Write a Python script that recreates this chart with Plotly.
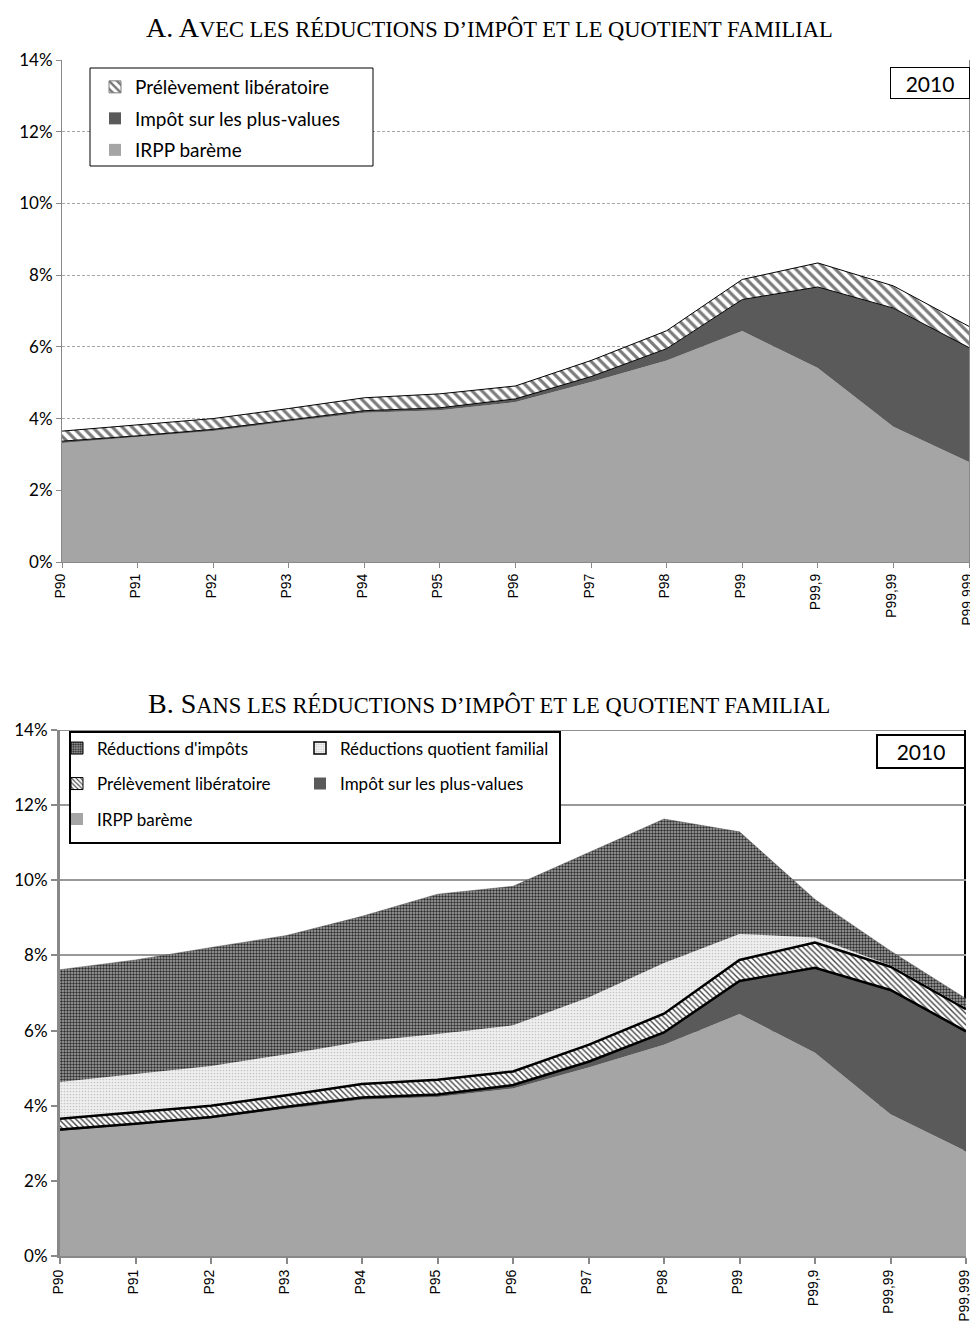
import plotly.graph_objects as go

# ---------------- data (percent of income) ----------------
categories = ["P90", "P91", "P92", "P93", "P94", "P95", "P96", "P97", "P98",
              "P99", "P99,9", "P99,99", "P99,999"]
irpp_bareme = [3.32, 3.48, 3.65, 3.92, 4.16, 4.23, 4.46, 5.02, 5.62, 6.44, 5.41, 3.77, 2.79]
impot_plus_values = [0.05, 0.04, 0.05, 0.05, 0.06, 0.07, 0.09, 0.15, 0.33, 0.88, 2.26, 3.31, 3.19]
prelevement_liberatoire = [0.28, 0.31, 0.30, 0.31, 0.36, 0.39, 0.36, 0.45, 0.50, 0.56, 0.67, 0.62, 0.59]
reductions_qf = [0.98, 1.01, 1.06, 1.09, 1.13, 1.22, 1.23, 1.26, 1.35, 0.69, 0.14, 0.04, 0.03]
reductions_impots = [2.99, 3.04, 3.15, 3.16, 3.33, 3.72, 3.70, 3.86, 3.83, 2.72, 1.01, 0.38, 0.25]
y_tick_values = [0, 2, 4, 6, 8, 10, 12, 14]
y_tick_labels = ["0%", "2%", "4%", "6%", "8%", "10%", "12%", "14%"]
year_label = "2010"
title_a = ("A. A", "VEC LES RÉDUCTIONS D’IMPÔT ET LE QUOTIENT FAMILIAL")
title_b = ("B. S", "ANS LES RÉDUCTIONS D’IMPÔT ET LE QUOTIENT FAMILIAL")
names = {
    "irpp": "IRPP barème",
    "pv": "Impôt sur les plus-values",
    "pl": "Prélèvement libératoire",
    "qf": "Réductions quotient familial",
    "ri": "Réductions d'impôts",
}

# page has an 8px body margin: figure sized to fit the window exactly
OFF = 8
W, H = 978 - OFF, 1330 - OFF


def px(x):
    return (x - OFF) / W


def py(y):
    return 1 - (y - OFF) / H


LATO = "Lato, Calibri, sans-serif"
ARIAL = "Liberation Sans, Arial, sans-serif"
SERIF = "Liberation Serif, Times New Roman, serif"

C_IRPP = "#a5a5a5"
C_PV = "#5a5a5a"

pat_pl_a = dict(shape="\\", fgcolor="#7a7a7a", bgcolor="white", size=7, solidity=0.45)
pat_pl_b = dict(shape="\\", fgcolor="#454545", bgcolor="white", size=4, solidity=0.35)
pat_qf = dict(shape=".", fgcolor="#c4c4c4", bgcolor="#f0f0f0", size=3, solidity=0.25)
pat_ri = dict(shape=".", fgcolor="#2e2e2e", bgcolor="#a8a8a8", size=3, solidity=0.5)

fig = go.Figure()

# ---------------- Panel A ----------------
fig.add_trace(go.Scatter(x=categories, y=irpp_bareme, stackgroup="a", mode="lines",
                         line=dict(width=0), fillcolor=C_IRPP, showlegend=False,
                         xaxis="x", yaxis="y", hoverinfo="skip"))
fig.add_trace(go.Scatter(x=categories, y=impot_plus_values, stackgroup="a", mode="lines",
                         line=dict(width=1, color="black"), fillcolor=C_PV, showlegend=False,
                         xaxis="x", yaxis="y", hoverinfo="skip"))
fig.add_trace(go.Scatter(x=categories, y=prelevement_liberatoire, stackgroup="a", mode="lines",
                         line=dict(width=1, color="black"), fillcolor="white",
                         fillpattern=pat_pl_a, showlegend=False,
                         xaxis="x", yaxis="y", hoverinfo="skip"))

# ---------------- Panel B ----------------
fig.add_trace(go.Scatter(x=categories, y=irpp_bareme, stackgroup="b", mode="lines",
                         line=dict(width=0), fillcolor=C_IRPP, showlegend=False,
                         xaxis="x2", yaxis="y2", hoverinfo="skip"))
fig.add_trace(go.Scatter(x=categories, y=impot_plus_values, stackgroup="b", mode="lines",
                         line=dict(width=2.5, color="black"), fillcolor=C_PV, showlegend=False,
                         xaxis="x2", yaxis="y2", hoverinfo="skip"))
fig.add_trace(go.Scatter(x=categories, y=prelevement_liberatoire, stackgroup="b", mode="lines",
                         line=dict(width=2.5, color="black"), fillcolor="white",
                         fillpattern=pat_pl_b, showlegend=False,
                         xaxis="x2", yaxis="y2", hoverinfo="skip"))
fig.add_trace(go.Scatter(x=categories, y=reductions_qf, stackgroup="b", mode="lines",
                         line=dict(width=0), fillcolor="#f0f0f0",
                         fillpattern=pat_qf, showlegend=False,
                         xaxis="x2", yaxis="y2", hoverinfo="skip"))
fig.add_trace(go.Scatter(x=categories, y=reductions_impots, stackgroup="b", mode="lines",
                         line=dict(width=0.5, color="#555555"), fillcolor="#a8a8a8",
                         fillpattern=pat_ri, showlegend=False,
                         xaxis="x2", yaxis="y2", hoverinfo="skip"))


# ---------------- legend swatches (empty bar traces) ----------------
def swatch(name, legend, xa, ya, color, pattern=None, lcolor=None, lwidth=0, group=None):
    marker = dict(color=color, line=dict(color=lcolor or color, width=lwidth))
    if pattern:
        marker["pattern"] = pattern
    fig.add_trace(go.Bar(x=[None], y=[None], name=name, marker=marker, legend=legend,
                         legendgroup=group or name, xaxis=xa, yaxis=ya, hoverinfo="skip"))


swatch(names["pl"], "legend", "x", "y", "white", pat_pl_a, "#7a7a7a", 1, "a1")
swatch(names["pv"], "legend", "x", "y", C_PV, None, None, 0, "a2")
swatch(names["irpp"], "legend", "x", "y", C_IRPP, None, None, 0, "a3")

swatch(names["ri"], "legend2", "x2", "y2", "#a8a8a8", pat_ri, "black", 1, "b1")
swatch(names["pl"], "legend2", "x2", "y2", "white", pat_pl_b, "black", 1, "b2")
swatch(names["irpp"], "legend2", "x2", "y2", C_IRPP, None, None, 0, "b3")
swatch(names["qf"], "legend3", "x2", "y2", "#f0f0f0", pat_qf, "black", 1.5, "b4")
swatch(names["pv"], "legend3", "x2", "y2", C_PV, None, None, 0, "b5")

# ---------------- axes ----------------
xa_common = dict(type="category", categoryorder="array", categoryarray=categories,
                 range=[0, len(categories) - 1], tickangle=-90, ticks="outside",
                 showgrid=False, zeroline=False, showline=True, ticklabelshift=-2,
                 tickfont=dict(family=ARIAL, size=14, color="black"))
ya_common = dict(range=[0, 14], tickvals=y_tick_values, ticktext=y_tick_labels,
                 ticks="outside", zeroline=False, showline=True, showgrid=True,
                 tickfont=dict(family=LATO, size=17, color="black"))

fig.update_layout(
    template="none",
    width=W, height=H,
    margin=dict(l=0, r=0, t=0, b=0),
    paper_bgcolor="white", plot_bgcolor="white",
    showlegend=True,
    xaxis=dict(**xa_common, domain=[px(62), px(969)], anchor="y",
               ticklen=5, tickcolor="#888888", tickwidth=1,
               linecolor="#888888", linewidth=1),
    yaxis=dict(**ya_common, domain=[py(562), py(60)], anchor="x",
               ticklen=5, tickcolor="#888888", tickwidth=1,
               linecolor="#888888", linewidth=1, mirror=True,
               gridcolor="#a6a6a6", gridwidth=1, griddash="3px,2px"),
    xaxis2=dict(**xa_common, domain=[px(60), px(966)], anchor="y2",
                ticklen=6, tickcolor="#888888", tickwidth=2,
                linecolor="#888888", linewidth=2),
    yaxis2=dict(**ya_common, domain=[py(1256), py(730)], anchor="x2",
                ticklen=6, tickcolor="#888888", tickwidth=2,
                linecolor="#888888", linewidth=3,
                gridcolor="#999999", gridwidth=2),
    legend=dict(x=px(95), y=py(68), xanchor="left", yanchor="top",
                bgcolor="rgba(0,0,0,0)", borderwidth=0, tracegroupgap=3.8,
                font=dict(family=LATO, size=19, color="black")),
    legend2=dict(x=px(57), y=py(730.5), xanchor="left", yanchor="top",
                 bgcolor="rgba(0,0,0,0)", borderwidth=0, tracegroupgap=10.4,
                 font=dict(family=LATO, size=17, color="black")),
    legend3=dict(x=px(300), y=py(730.5), xanchor="left", yanchor="top",
                 bgcolor="rgba(0,0,0,0)", borderwidth=0, tracegroupgap=10.4,
                 font=dict(family=LATO, size=17, color="black")),
)

# ---------------- frames / boxes ----------------
shapes = [
    dict(type="rect", xref="paper", yref="paper", x0=px(90), x1=px(373), y0=py(166), y1=py(68),
         line=dict(color="black", width=1), fillcolor="white", layer="above"),
    dict(type="rect", xref="paper", yref="paper", x0=px(70), x1=px(560), y0=py(843), y1=py(732),
         line=dict(color="black", width=2), fillcolor="white", layer="above"),
    dict(type="line", xref="paper", yref="y2", x0=px(60), x1=px(966), y0=14, y1=14,
         line=dict(color="#222222", width=1), layer="below"),
    dict(type="line", xref="paper", yref="y2", x0=px(965), x1=px(965), y0=0, y1=14,
         line=dict(color="black", width=2), layer="below"),
]
fig.update_layout(shapes=shapes)


def small_caps(parts):
    big, small = parts
    return (f"<span style='font-size:28px'>{big}</span>"
            f"<span style='font-size:22.5px'>{small}</span>")


annotations = [
    dict(text=small_caps(title_a), xref="paper", yref="paper", x=px(489), y=py(27),
         xanchor="center", yanchor="middle", showarrow=False,
         font=dict(family=SERIF, size=28, color="black")),
    dict(text=small_caps(title_b), xref="paper", yref="paper", x=px(489), y=py(703),
         xanchor="center", yanchor="middle", showarrow=False,
         font=dict(family=SERIF, size=28, color="black")),
    dict(text=year_label, xref="paper", yref="paper", x=px(930), y=py(83),
         xanchor="center", yanchor="middle", showarrow=False, width=78, height=30,
         bgcolor="white", bordercolor="black", borderwidth=1, borderpad=0,
         font=dict(family=LATO, size=21, color="black")),
    dict(text=year_label, xref="paper", yref="paper", x=px(921), y=py(752),
         xanchor="center", yanchor="middle", showarrow=False, width=86, height=31,
         bgcolor="white", bordercolor="black", borderwidth=2, borderpad=0,
         font=dict(family=LATO, size=21, color="black")),
]
fig.update_layout(annotations=annotations)

fig.write_html("out.html")
